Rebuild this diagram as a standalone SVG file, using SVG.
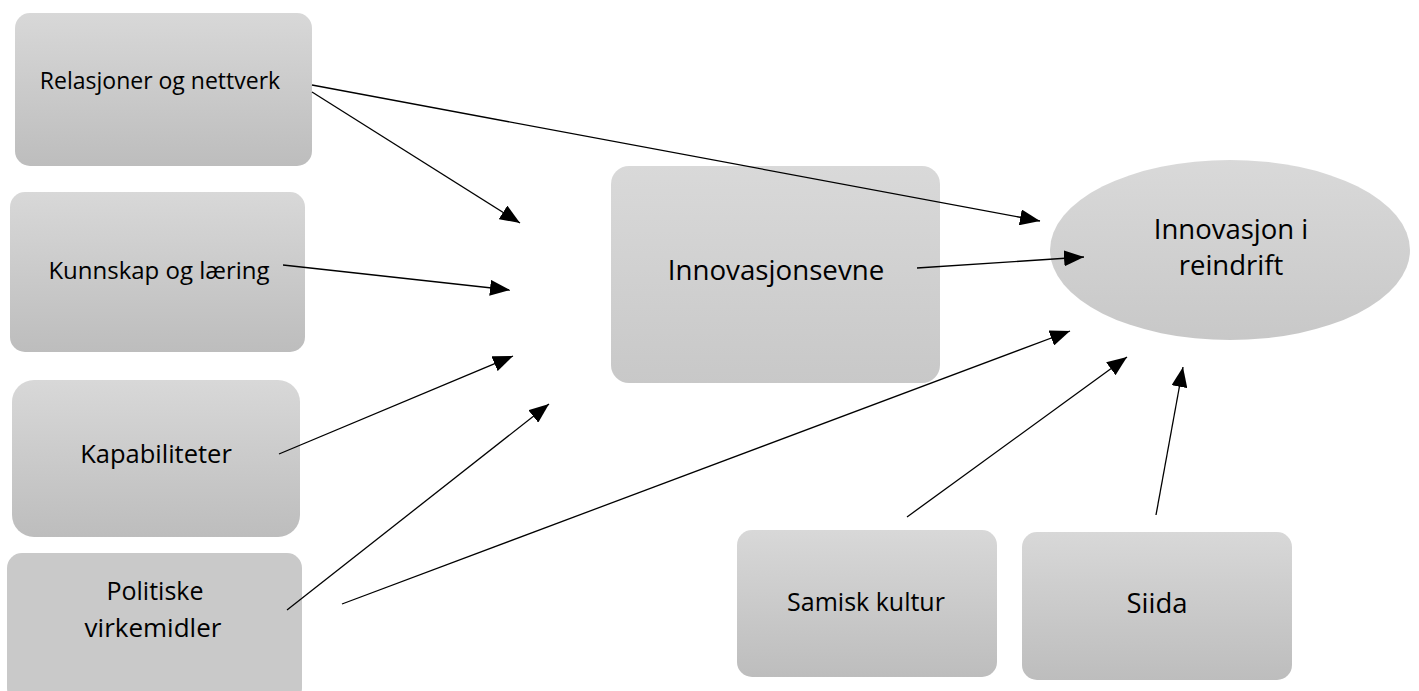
<svg xmlns="http://www.w3.org/2000/svg" width="1419" height="691" viewBox="0 0 1419 691">
<defs>
<linearGradient id="g" x1="0" y1="0" x2="0" y2="1">
<stop offset="0" stop-color="#d8d8d8"/>
<stop offset="1" stop-color="#bdbdbd"/>
</linearGradient>
<linearGradient id="g2" x1="0" y1="0" x2="0" y2="1">
<stop offset="0" stop-color="#d9d9d9"/>
<stop offset="1" stop-color="#c8c8c8"/>
</linearGradient>
<marker id="ah" markerWidth="20" markerHeight="16" refX="20" refY="8" orient="auto" markerUnits="userSpaceOnUse">
<path d="M0,0 L20,8 L0,16 Z" fill="#000"/>
</marker>
</defs>
<style>
.box{fill:url(#g);}
.t{font-family:"Open Sans","Noto Sans",sans-serif;fill:#000;text-anchor:middle;}
.c line{stroke:#000;stroke-width:1.3;marker-end:url(#ah);}
</style>
<rect width="1419" height="691" fill="#fff"/>
<g id="n1"><rect class="box" x="15" y="13" width="297" height="153" rx="15"/><text class="t" x="160" y="89" font-size="23">Relasjoner og nettverk</text></g>
<g id="n2"><rect class="box" x="10" y="192" width="295" height="160" rx="15"/><text class="t" x="159" y="279" font-size="24">Kunnskap og læring</text></g>
<g id="n3"><rect class="box" x="12" y="380" width="288" height="157" rx="22"/><text class="t" x="156" y="463" font-size="25.5">Kapabiliteter</text></g>
<g id="n4"><rect x="7" y="553" width="295" height="150" rx="15" fill="#c9c9c9"/><text class="t" x="155" y="600" font-size="25">Politiske</text><text class="t" x="153" y="637" font-size="26">virkemidler</text></g>
<g id="n5"><rect x="611" y="166" width="329" height="217" rx="18" fill="url(#g2)"/><text class="t" x="776" y="280" font-size="27.7">Innovasjonsevne</text></g>
<g id="n6"><ellipse cx="1230" cy="250" rx="180" ry="90" fill="url(#g2)"/><text class="t" x="1231" y="239" font-size="27.5">Innovasjon i</text><text class="t" x="1231" y="275" font-size="27.5">reindrift</text></g>
<g id="n7"><rect class="box" x="737" y="530" width="260" height="147" rx="15"/><text class="t" x="866" y="611" font-size="25">Samisk kultur</text></g>
<g id="n8"><rect class="box" x="1022" y="532" width="270" height="148" rx="15"/><text class="t" x="1157" y="613" font-size="27.5">Siida</text></g>
<g id="connectors" class="c">
<line x1="312" y1="85" x2="1040" y2="221"/>
<line x1="312" y1="92" x2="520" y2="223"/>
<line x1="283" y1="265" x2="510" y2="290"/>
<line x1="279" y1="454" x2="513" y2="356"/>
<line x1="287" y1="610" x2="549" y2="404"/>
<line x1="342" y1="604" x2="1070" y2="331"/>
<line x1="917" y1="268" x2="1084" y2="257"/>
<line x1="907" y1="517" x2="1127" y2="357"/>
<line x1="1156" y1="515" x2="1183" y2="367"/>
</g>
</svg>
